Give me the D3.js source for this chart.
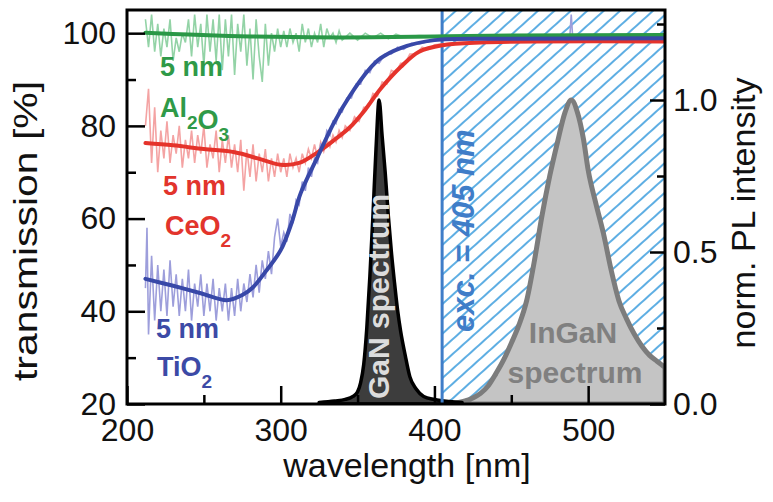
<!DOCTYPE html>
<html>
<head>
<meta charset="utf-8">
<script src="https://cdn.jsdelivr.net/npm/d3@7"></script>
<style>
  body { margin: 0; background: #fff; }
  svg { font-family: "Liberation Sans", Arial, sans-serif; }
  .axis text { font-size: 32px; fill: #111; }
  .lbl { font-size: 27px; font-weight: bold; }
</style>
</head>
<body>
<div id="chart"></div>
<script>
// wavelength ticks
var xMajor = [200, 300, 400, 500],
    xMinor = [250, 350, 450];
var yMajor = [20, 40, 60, 80, 100],
    yMinor = [30, 50, 70, 90];
var plMajor = [0, 0.5, 1.0],
    plMinor = [0.25, 0.75, 1.25];

// 5 nm Al2O3 : raw transmission and fit
var al2o3Raw = [[212,103],[214,97],[216,104],[218,96],[220,102],[222,95],[224,101],[226,97],[228,103],[230,94],
  [232,99],[234,96],[236,100],[238,98],[240,103],[242,95],[244,104],[246,97],[248,102],[250,93],
  [252,104],[254,96],[256,103],[258,94],[260,104],[262,92],[264,103],[266,95],[268,104],[270,91],
  [272,102],[274,96],[276,104],[278,93],[280,101],[282,90],[284,103],[286,95],[288,89.5],[290,102],
  [292,93],[294,100],[296,96],[298,101],[300,97],[302,100.5],[304,97],[306,101],[308,98],[310,100],
  [312,96],[314,102],[316,98],[318,101],[320,97],[322,100],[324,98],[326,102],[328,97],[330,101],
  [332,99],[334,100],[336,98],[338,100.5],[340,98.5],[345,100],[350,98.5],[355,100],[360,99],[365,100],
  [370,98.8],[375,99.8],[380,99.2],[390,99.5],[400,99.3],[550,99.5]];
var al2o3Fit = [[212,100.1],[240,99.7],[280,99.3],[320,99.1],[360,99.1],[400,99.3],[450,99.5],[550,99.6]];

// 5 nm CeO2
var ceo2Raw = [[212,80],[214,88],[216,72],[218,84],[220,70],[222,79],[224,73],[226,81],[228,72],[230,78],
  [232,74],[234,80],[236,71],[238,77],[240,73],[242,79],[244,72],[246,78],[248,74],[250,80],
  [252,71],[254,76],[256,73],[258,79],[260,70],[262,77],[264,72],[266,78],[268,71],[270,76],
  [272,70],[274,77],[276,66],[278,75],[280,69],[282,76],[284,68],[286,74],[288,70],[290,75],
  [292,68],[294,73],[296,69],[298,74],[300,70],[302,73],[304,69],[306,74],[308,71],[310,73],
  [312,70],[314,74],[316,72],[318,75],[320,73],[322,76],[324,73],[326,76.5],[328,74.5],[330,77],
  [332,75.5],[334,78],[336,76.5],[338,79],[340,77.5],[342,80],[345,79],[348,82],[351,81],[354,84],
  [357,84],[360,87],[363,86.5],[366,89.5],[369,89],[372,92],[375,91.5],[378,93.5],[381,93.5],[384,95.5],
  [388,95.5],[392,97],[396,96.5],[400,97.5],[410,97.8],[430,98],[550,98.2]];
var ceo2Fit = [[212,76.3],[230,75.8],[250,75],[270,74.3],[285,73],[300,71.6],[312,72],[324,74.3],
  [335,77],[345,79.7],[355,83.5],[365,88],[378,92.7],[390,96],[405,97.4],[430,98],[550,98.2]];

// 5 nm TiO2
var tio2Raw = [[212,45],[213,58],[214,35],[216,52],[218,38],[220,50],[222,40],[224,49],[226,39],[228,51],
  [230,41],[232,48],[234,39],[236,47],[238,40],[240,49],[242,38],[244,46],[246,41],[248,48],
  [250,39],[252,46],[254,40],[256,47],[258,38],[260,45],[262,40],[264,46],[266,38],[268,45],
  [270,39],[272,47],[274,40],[276,46],[278,42],[280,48],[282,43],[284,50],[286,44],[288,51],
  [290,47],[292,53],[294,48],[296,56],[298,60],[300,54],[302,57],[304,55],[306,61],[308,59],
  [310,64],[312,63],[314,68],[316,66],[318,71],[320,69],[322,73],[324,72],[326,76],[328,75],
  [330,79],[332,78],[334,81],[336,80.5],[338,83.5],[340,83],[343,86],[346,86],[349,89],[352,89],
  [355,92],[358,91.5],[361,94],[364,93.5],[368,95.5],[372,95.5],[376,97],[380,96.5],[385,97.8],[390,97.7],
  [400,98.5],[450,98.8],[488,98.8],[489,104],[490,98.8],[550,98.9]];
var tio2Fit = [[212,47],[230,45.5],[248,43.9],[265,42.4],[275,43.5],[282,45.2],[290,48.5],[300,53.2],
  [307,59],[313,65.5],[324,73.3],[334.5,80.6],[345,86.5],[357,92],[365,94.6],[378,96.8],[400,98.5],
  [450,98.8],[550,98.9]];

// normalised PL spectra
var ganPL = [[325,0.005],[335,0.01],[342,0.015],[347,0.025],[350,0.04],[352,0.07],[354,0.13],[356,0.25],
  [358,0.42],[360,0.62],[362,0.84],[364,1.0],[366,0.88],[368,0.76],[370,0.62],[372,0.5],[374,0.4],
  [376,0.31],[378,0.24],[381,0.16],[384,0.09],[388,0.05],[393,0.025],[400,0.015],[410,0.008],[418,0.005]];
var inganPL = [[410,0],[420,0.01],[425,0.02],[430,0.035],[435,0.06],[440,0.1],[445,0.145],[450,0.2],
  [455,0.26],[460,0.34],[465,0.47],[470,0.62],[475,0.75],[480,0.86],[485,0.96],[489,1.0],[493,0.96],
  [497,0.87],[500,0.77],[505,0.66],[510,0.56],[515,0.44],[520,0.34],[525,0.28],[530,0.23],[535,0.19],
  [540,0.16],[545,0.14],[550,0.12]];

var excitation = 405;

var width = 773, height = 502;
var plotLeft = 127, plotRight = 665, plotTop = 10, plotBottom = 404;

var svg = d3.select('#chart').append('svg')
  .attr('width', width)
  .attr('height', height);

var x = d3.scaleLinear().domain([200, 550]).range([plotLeft, plotRight]);
var y = d3.scaleLinear().domain([20, 105]).range([plotBottom, plotTop]);
var yPL = d3.scaleLinear().domain([0, 394 / 304]).range([plotBottom, plotTop]);

var defs = svg.append('defs');
defs.append('clipPath').attr('id', 'plotclip')
  .append('rect')
  .attr('x', plotLeft).attr('y', plotTop)
  .attr('width', plotRight - plotLeft).attr('height', plotBottom - plotTop);

var hatch = defs.append('pattern')
  .attr('id', 'hatch')
  .attr('patternUnits', 'userSpaceOnUse')
  .attr('width', 11).attr('height', 11)
  .attr('patternTransform', 'rotate(48)');
hatch.append('line')
  .attr('x1', 5).attr('x2', 5).attr('y1', 0).attr('y2', 11)
  .attr('stroke', '#5eaee3').attr('stroke-width', 2);

var plot = svg.append('g').attr('clip-path', 'url(#plotclip)');

// hatched region beyond the excitation line
plot.append('rect')
  .attr('x', x(excitation)).attr('y', plotTop)
  .attr('width', plotRight - x(excitation)).attr('height', plotBottom - plotTop)
  .attr('fill', 'url(#hatch)');

// PL spectra
var plArea = d3.area()
  .x(function(d){ return x(d[0]); })
  .y0(yPL(0))
  .y1(function(d){ return yPL(d[1]); })
  .curve(d3.curveMonotoneX);

plot.append('path')
  .datum(inganPL)
  .attr('d', plArea)
  .attr('fill', '#c4c4c4')
  .attr('stroke', '#7c7c7c')
  .attr('stroke-width', 5)
  .attr('stroke-linejoin', 'round');

plot.append('path')
  .datum(ganPL)
  .attr('d', plArea)
  .attr('fill', '#3d3d3d')
  .attr('stroke', '#000')
  .attr('stroke-width', 3.5)
  .attr('stroke-linejoin', 'round');

// excitation line
plot.append('line')
  .attr('x1', x(excitation)).attr('x2', x(excitation))
  .attr('y1', plotTop).attr('y2', plotBottom)
  .attr('stroke', '#3f7dc8').attr('stroke-width', 3);

// transmission curves
var rawLine = d3.line()
  .x(function(d){ return x(d[0]); })
  .y(function(d){ return y(d[1]); });
var fitLine = d3.line()
  .x(function(d){ return x(d[0]); })
  .y(function(d){ return y(d[1]); })
  .curve(d3.curveCatmullRom.alpha(0.5));

var series = [
  { raw : al2o3Raw, fit : al2o3Fit, light : '#93d3a6', dark : '#2a9847' },
  { raw : ceo2Raw,  fit : ceo2Fit,  light : '#f4a3a3', dark : '#e5332b' },
  { raw : tio2Raw,  fit : tio2Fit,  light : '#9d9edb', dark : '#3848a8' }
];

series.forEach(function(s){
  plot.append('path')
    .datum(s.raw)
    .attr('d', rawLine)
    .attr('fill', 'none')
    .attr('stroke', s.light)
    .attr('stroke-width', 1.6);
});
series.forEach(function(s){
  plot.append('path')
    .datum(s.fit)
    .attr('d', fitLine)
    .attr('fill', 'none')
    .attr('stroke', s.dark)
    .attr('stroke-width', 4)
    .attr('stroke-linecap', 'round');
});

// axis titles
svg.append('text')
  .attr('transform', 'translate(37,231) rotate(-90)')
  .attr('text-anchor', 'middle')
  .attr('textLength', 300)
  .attr('lengthAdjust', 'spacingAndGlyphs')
  .style('font-size', '34px')
  .attr('fill', '#111')
  .text('transmission [%]');

svg.append('text')
  .attr('x', 407).attr('y', 477)
  .attr('text-anchor', 'middle')
  .style('font-size', '34px')
  .attr('fill', '#111')
  .text('wavelength [nm]');

svg.append('text')
  .attr('transform', 'translate(755,213) rotate(-90)')
  .attr('text-anchor', 'middle')
  .style('font-size', '34px')
  .attr('fill', '#111')
  .text('norm. PL intensity');

// sample labels
function label(xp, yp, color, parts){
  var t = svg.append('text')
    .attr('class', 'lbl')
    .attr('x', xp).attr('y', yp)
    .attr('fill', color);
  parts.forEach(function(p){
    if (p.sub) {
      t.append('tspan').attr('dy', 12).style('font-size', '19px').text(p.sub);
      t.append('tspan').attr('dy', -12).text('');
    } else {
      t.append('tspan').text(p.text);
    }
  });
}

label(160, 76, '#2f9a48', [{ text : '5 nm' }]);
label(160, 117, '#2f9a48', [{ text : 'Al' }, { sub : '2' }, { text : 'O' }, { sub : '3' }]);
label(163, 195, '#e2342c', [{ text : '5 nm' }]);
label(165, 235, '#e2342c', [{ text : 'CeO' }, { sub : '2' }]);
label(156, 338, '#3c4aa6', [{ text : '5 nm' }]);
label(157, 376, '#3c4aa6', [{ text : 'TiO' }, { sub : '2' }]);

// spectrum labels
svg.append('text')
  .attr('transform', 'translate(389,399) rotate(-90)')
  .style('font-size', '30px')
  .style('font-weight', 'bold')
  .attr('fill', '#dcdcdc')
  .text('GaN spectrum');

svg.append('text')
  .attr('x', 573).attr('y', 343)
  .attr('text-anchor', 'middle')
  .style('font-size', '30px')
  .style('font-weight', 'bold')
  .attr('fill', '#808080')
  .text('InGaN');
svg.append('text')
  .attr('x', 575).attr('y', 383)
  .attr('text-anchor', 'middle')
  .style('font-size', '30px')
  .style('font-weight', 'bold')
  .attr('fill', '#808080')
  .text('spectrum');

svg.append('text')
  .attr('transform', 'translate(474,332) rotate(-90)')
  .style('font-size', '31px')
  .style('font-weight', 'bold')
  .style('font-style', 'italic')
  .attr('fill', '#3f7dc8')
  .text('exc. = 405 nm');

// axes, ticks pointing inwards (drawn last, on top)
function axisGroup(axis, tx, ty){
  var g = svg.append('g').attr('class', 'axis')
    .attr('transform', 'translate(' + tx + ',' + ty + ')')
    .call(axis);
  g.select('.domain').remove();
  g.selectAll('line').attr('stroke', '#000').attr('stroke-width', 2.5);
  return g;
}

axisGroup(d3.axisLeft(y).tickValues(yMajor).tickSize(-18).tickPadding(11), plotLeft, 0);
axisGroup(d3.axisLeft(y).tickValues(yMinor).tickSize(-9).tickFormat(''), plotLeft, 0);
axisGroup(d3.axisBottom(x).tickValues(xMajor).tickSize(-18).tickPadding(14), 0, plotBottom);
axisGroup(d3.axisBottom(x).tickValues(xMinor).tickSize(-9).tickFormat(''), 0, plotBottom);
axisGroup(d3.axisRight(yPL).tickValues(plMajor).tickSize(-15).tickPadding(8).tickFormat(d3.format('.1f')), plotRight, 0);
axisGroup(d3.axisRight(yPL).tickValues(plMinor).tickSize(-8).tickFormat(''), plotRight, 0);

// frame
svg.append('rect')
  .attr('x', plotLeft).attr('y', plotTop)
  .attr('width', plotRight - plotLeft).attr('height', plotBottom - plotTop)
  .attr('fill', 'none')
  .attr('stroke', '#000')
  .attr('stroke-width', 3);
</script>
</body>
</html>
